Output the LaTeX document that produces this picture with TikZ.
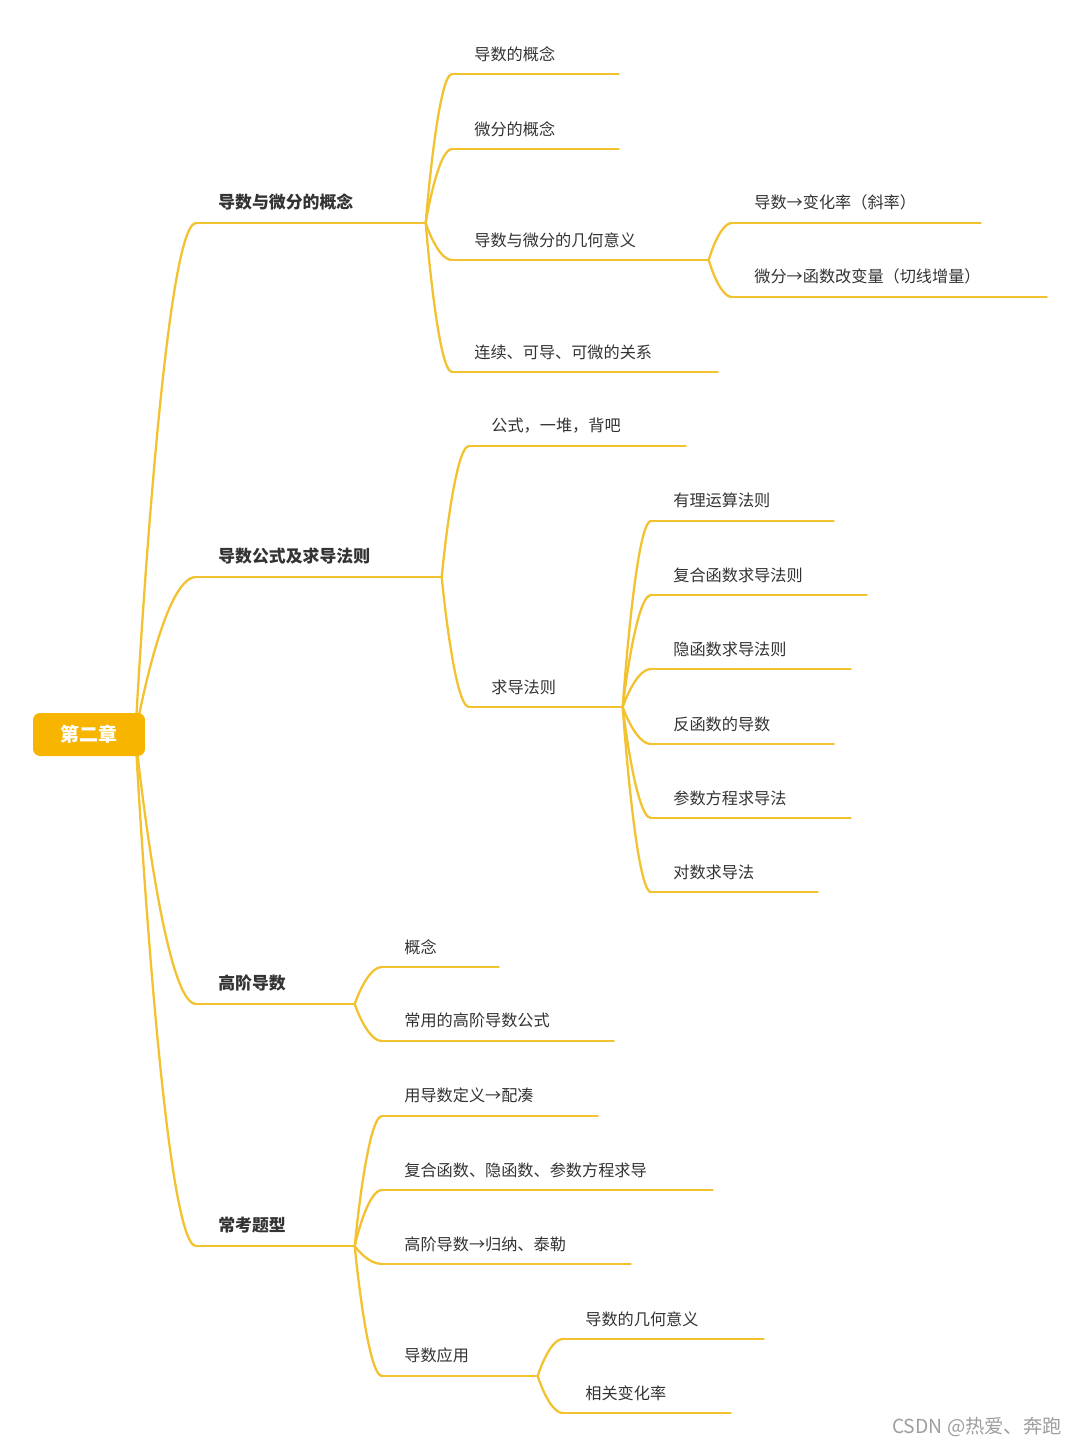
\documentclass[tikz,border=0pt]{standalone}
\usepackage{fontspec}
\setmainfont{Noto Sans CJK SC}
\usetikzlibrary{calc,backgrounds}
\definecolor{cLine}{HTML}{F2C230}
\definecolor{cRoot}{HTML}{F8B500}
\definecolor{cText}{HTML}{333333}
\definecolor{cMark}{HTML}{9E9E9E}
\tikzset{
  link/.style={draw=cLine, line width=1.3pt, line cap=round},
  branch/.style={to path={.. controls (\tikztostart) and
      ($(\tikztostart |- \tikztotarget)!0.45!(\tikztotarget)$) .. (\tikztotarget)}},
  topic/.style={anchor=south west, inner xsep=0.44cm, inner ysep=7pt,
                text width=#1*0.02cm-0.88cm, align=left, text=cText,
                font=\fontsize{9.2}{11}\selectfont},
  main/.style={topic=#1, font=\bfseries\fontsize{9.6}{11}\selectfont},
  root/.style={fill=cRoot, rounded corners=4pt, minimum width=2.24cm,
               minimum height=0.86cm, inner sep=0pt, text=white,
               font=\bfseries\fontsize{10.8}{13}\selectfont},
  wmark/.style={text=cMark, font=\fontsize{11}{13}\selectfont}
}

\begin{document}
\begin{tikzpicture}[x=0.02cm, y=-0.02cm]
\useasboundingbox (0,0) rectangle (1080,1447);
% root
\node[root] (ch2) at (89,734.5) {第二章};
\coordinate (hub) at ([xshift=-0.2cm]ch2.east);
% level 1
\node[main=229] (c1) at (196,223)  {导数与微分的概念};
\node[main=245] (c2) at (196,577)  {导数公式及求导法则};
\node[main=158] (c3) at (196,1004) {高阶导数};
\node[main=158] (c4) at (196,1246) {常考题型};
% concepts
\node[topic=166] (a1) at (452,74)  {导数的概念};
\node[topic=166] (a2) at (452,149) {微分的概念};
\node[topic=256] (a3) at (452,260) {导数与微分的几何意义};
\node[topic=265] (a4) at (452,372) {连续、可导、可微的关系};
\node[topic=248] (g1) at (732,223) {导数→变化率（斜率）};
\node[topic=314] (g2) at (732,297) {微分→函数改变量（切线增量）};
% formulas and rules
\node[topic=216] (b1) at (469,446) {公式，一堆，背吧};
\node[topic=153] (b2) at (469,707) {求导法则};
\node[topic=182] (r1) at (651,521) {有理运算法则};
\node[topic=215] (r2) at (651,595) {复合函数求导法则};
\node[topic=199] (r3) at (651,669) {隐函数求导法则};
\node[topic=182] (r4) at (651,744) {反函数的导数};
\node[topic=199] (r5) at (651,818) {参数方程求导法};
\node[topic=166] (r6) at (651,892) {对数求导法};
% higher order
\node[topic=116] (h1) at (382,967)  {概念};
\node[topic=231] (h2) at (382,1041) {常用的高阶导数公式};
% typical problems
\node[topic=215] (t1) at (382,1116) {用导数定义→配凑};
\node[topic=330] (t2) at (382,1190) {复合函数、隐函数、参数方程求导};
\node[topic=248] (t3) at (382,1264) {高阶导数→归纳、泰勒};
\node[topic=155] (t4) at (382,1376) {导数应用};
\node[topic=200] (u1) at (563,1339) {导数的几何意义};
\node[topic=167] (u2) at (563,1413) {相关变化率};
% watermark
\node[wmark] (wm) at (977,1427) {CSDN @热爱、奔跑};
% connectors and underlines
\begin{scope}[on background layer]
\foreach \ch in {c1,c2,c3,c4}
  \draw[link] (hub) to[branch] (\ch.south west);
\foreach \pa/\ch in {c1/a1, c1/a2, c1/a3, c1/a4, a3/g1, a3/g2,
                     c2/b1, c2/b2, b2/r1, b2/r2, b2/r3, b2/r4, b2/r5, b2/r6,
                     c3/h1, c3/h2, c4/t1, c4/t2, c4/t3, c4/t4, t4/u1, t4/u2}
  \draw[link] (\pa.south east) to[branch] (\ch.south west);
\foreach \n in {c1,c2,c3,c4,a1,a2,a3,a4,g1,g2,b1,b2,r1,r2,r3,r4,r5,r6,
                h1,h2,t1,t2,t3,t4,u1,u2}
  \draw[link] (\n.south west) -- (\n.south east);
\end{scope}
\end{tikzpicture}
\end{document}
